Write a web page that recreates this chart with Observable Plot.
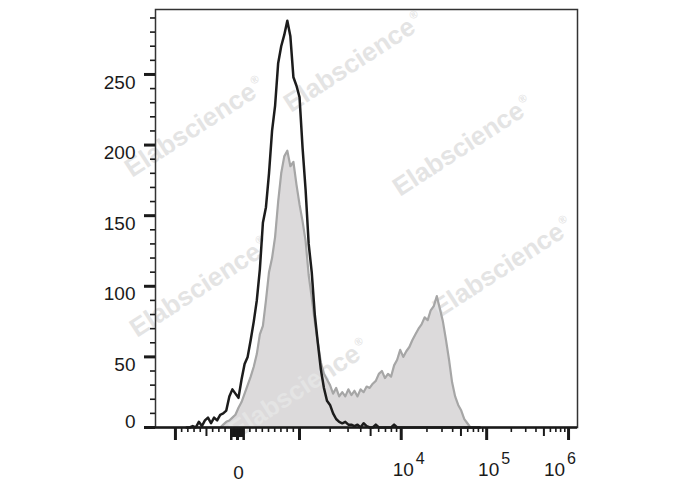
<!DOCTYPE html>
<html><head><meta charset="utf-8">
<script src="https://cdn.jsdelivr.net/npm/d3@7"></script>
<script src="https://cdn.jsdelivr.net/npm/@observablehq/plot@0.6"></script>
<style>
body{margin:0;background:#fff;}
#chart{width:688px;height:490px;}
</style></head><body><div id="chart"></div>
<script>
// Histogram bins on the biexponential display axis (display units = decades)
const binStart = -0.5;
const binStep = 0.03;
// Unstained control (black outline)
const unstained = [
  0,0,1,0,4,1,5,7,3,7,
  5,9,10,12,22,27,24,21,34,45,
  50,62,75,90,112,145,156,180,210,228,
  258,270,278,288,277,248,242,234,198,168,
  130,110,80,60,41,28,19,16,10,6,
  4,3,4,2,2,1,2,0,3,1,
  0,0,2,0,0,0,0,0,2,0,
  0,0,0,0,0,0,0,0,0,0,
  0,0,0,0,0,0,0,0,0,0,
  0,0,0,0,0,0,0
];
// Stained sample (grey filled)
const stained = [
  0,0,0,0,0,0,0,0,0,0,
  0,0,2,4,5,7,9,14,18,24,
  30,36,43,52,66,72,90,110,120,135,
  160,180,192,196,185,188,172,158,146,132,
  108,92,75,60,46,38,34,30,24,28,
  22,25,22,27,23,26,22,27,25,29,
  28,31,33,38,40,35,38,36,44,48,
  55,50,54,57,62,66,70,73,78,76,
  83,86,93,84,75,62,48,32,22,16,
  12,6,3,0,0,0,0
];
const yLabels = [0, 50, 100, 150, 200, 250];
const xMajor = [-1e3, 0, 1e3, 1e4, 1e5, 1e6];
const xLabelValues = [0, 1e4, 1e5, 1e6];
const xLabelExps = ["", "4", "5", "6"];

// biexponential display transform (scale configuration)
const decadeVals = [1e3, 1e4, 1e5, 1e6];
const decadePos = [0.61, 1.61, 2.45, 3.255];
function display(v) {
  const a = Math.abs(v);
  if (a <= 1e3) return v / 1e3 * decadePos[0];
  const l = Math.log10(a);
  const i = Math.min(Math.floor(l) - 3, 2);
  const d = decadePos[i] + (l - (i + 3)) * (decadePos[i + 1] - decadePos[i]);
  return Math.sign(v) * d;
}
// tick sets
const xMedium = [-500, 5e3, 5e4, 5e5];
const xTiny = d3.range(-90, 100, 10).filter(v => v !== 0);
const xHundred = [-100, 100];
const xMinor = [
  ...d3.range(-900, -100, 100).filter(v => v !== -500),
  ...d3.range(200, 1000, 100),
  ...[1e3, 1e4, 1e5].flatMap(b => [2,3,4,6,7,8,9].map(m => m * b))
];
const yMinor = d3.range(0, 300, 10).filter(v => v % 50 !== 0);

const rows = unstained.map((u, i) => ({x: binStart + i * binStep, unstained: u, stained: stained[i]}));

const wmAnchors = [[132,178],[291,113],[400,197],[440,318],[137,338],[236,440]];
function watermark() {
  const ns = "http://www.w3.org/2000/svg";
  const g = document.createElementNS(ns, "g");
  for (const [x, y] of wmAnchors) {
    const t = document.createElementNS(ns, "text");
    t.setAttribute("transform", `translate(${x},${y}) rotate(-33)`);
    t.setAttribute("font-size", "26");
    t.setAttribute("font-weight", "bold");
    t.setAttribute("text-anchor", "start");
    t.setAttribute("font-family", "Liberation Sans, Arial, sans-serif");
    t.setAttribute("fill", "#e4e4e4");
    t.append(document.createTextNode("Elabscience"));
    const r = document.createElementNS(ns, "tspan");
    r.setAttribute("font-size", "11");
    r.setAttribute("dy", "-12");
    r.setAttribute("dx", "2");
    r.textContent = "®";
    t.append(r);
    g.append(t);
  }
  return g;
}

const ink = "#1a1a1a";
const chart = Plot.plot({
  width: 688, height: 490,
  marginLeft: 155, marginRight: 111, marginTop: 9, marginBottom: 63,
  x: {domain: [-0.806, 3.343]},
  y: {domain: [0, 296]},
  style: {fontFamily: "Liberation Sans, Arial, sans-serif", background: "white", color: ink, overflow: "visible"},
  marks: [
    Plot.areaY(rows, {x: "x", y: "stained", fill: "#dcdadb"}),
    watermark,
    Plot.lineY(rows, {x: "x", y: "stained", stroke: "#a6a6a6", strokeWidth: 2.2}),
    Plot.lineY(rows, {x: "x", y: "unstained", stroke: "#1c1c1c", strokeWidth: 2.5}),
    Plot.frame({stroke: "#333", strokeWidth: 1.5}),
    Plot.ruleY([0], {stroke: ink, strokeWidth: 2.5}),
    // y axis ticks
    Plot.axisY({ticks: yLabels, tickSize: 11, strokeWidth: 3, tickFormat: () => "", label: null}),
    Plot.axisY({ticks: yMinor, tickSize: 5, strokeWidth: 1.6, tickFormat: () => "", label: null}),
    Plot.text(yLabels.filter(v => v > 0), {y: d => d, text: d => String(d), frameAnchor: "left", dx: -20, dy: 8, textAnchor: "end", fontSize: 19, fill: ink}),
    Plot.text([0], {y: d => d, text: d => String(d), frameAnchor: "left", dx: -20, dy: -6, textAnchor: "end", fontSize: 19, fill: ink}),
    // x axis ticks
    Plot.axisX({ticks: xMajor.map(display), tickSize: 13, strokeWidth: 3, tickFormat: () => "", label: null}),
    Plot.axisX({ticks: xHundred.map(display), tickSize: 13, strokeWidth: 2.5, tickFormat: () => "", label: null}),
    Plot.axisX({ticks: xTiny.map(display), tickSize: 10, strokeWidth: 1.5, tickFormat: () => "", label: null}),
    Plot.axisX({ticks: xMedium.map(display), tickSize: 9, strokeWidth: 2, tickFormat: () => "", label: null}),
    Plot.axisX({ticks: xMinor.map(display), tickSize: 5, strokeWidth: 1.6, tickFormat: () => "", label: null}),
    // x labels
    Plot.text([0], {x: d => display(d), text: () => "0", frameAnchor: "bottom", dx: 1, dy: 51, fontSize: 19, fill: ink}),
    Plot.text(xLabelValues.slice(1, 3), {x: d => display(d), text: () => "10", frameAnchor: "bottom", dx: 2, dy: 48.5, fontSize: 19, fill: ink}),
    Plot.text(xLabelValues.slice(1, 3), {x: d => display(d), text: d => xLabelExps[xLabelValues.indexOf(d)], frameAnchor: "bottom", dx: 19, dy: 36, fontSize: 16, fill: ink}),
    Plot.text(xLabelValues.slice(3), {x: d => display(d), text: () => "10", frameAnchor: "bottom", dx: -14, dy: 48.5, fontSize: 19, fill: ink}),
    Plot.text(xLabelValues.slice(3), {x: d => display(d), text: d => xLabelExps[xLabelValues.indexOf(d)], frameAnchor: "bottom", dx: 3, dy: 36, fontSize: 16, fill: ink})
  ]
});
document.getElementById("chart").append(chart);
</script></body></html>
